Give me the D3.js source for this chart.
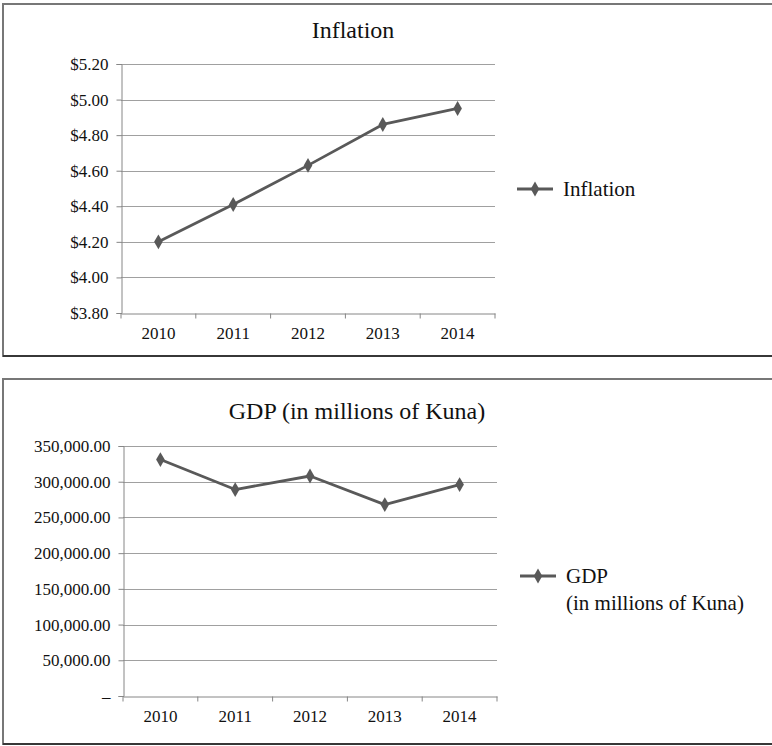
<!DOCTYPE html>
<html>
<head>
<meta charset="utf-8">
<script src="https://cdn.jsdelivr.net/npm/d3@7"></script>
<style>
  body { margin: 0; background: #fff; }
  svg text { font-family: "Liberation Serif", "Times New Roman", Times, "DejaVu Serif", serif !important; }
</style>
</head>
<body>
<svg id="chart" width="772" height="746"></svg>
<script>
// Categories shared by both charts
var years = ["2010", "2011", "2012", "2013", "2014"];

// Inflation series (dollars)
var inflationValues = [4.20, 4.41, 4.63, 4.86, 4.95];
var inflationTicks = [3.8, 4.0, 4.2, 4.4, 4.6, 4.8, 5.0, 5.2];

// GDP series (millions of Kuna)
var gdpValues = [331000, 289000, 308000, 268000, 296000];
var gdpTicks = [0, 50000, 100000, 150000, 200000, 250000, 300000, 350000];

var svg = d3.select("#chart");

var lineColor = "#595959";
var gridColor = "#a0a0a0";
var axisColor = "#868686";

function drawPanel(p) {
    var g = svg.append("g");

    // Frame (open on the right, as in the source)
    g.append("path")
        .attr("d", "M773," + p.frame.top + "H" + p.frame.left + "V" + p.frame.bottom + "H773")
        .attr("fill", "none")
        .attr("stroke", "#777")
        .attr("stroke-width", 2);
    g.append("line")
        .attr("x1", p.frame.left).attr("x2", 773)
        .attr("y1", p.frame.bottom).attr("y2", p.frame.bottom)
        .attr("stroke", "#222").attr("stroke-width", 1.5);

    // Title
    g.append("text")
        .attr("x", p.titleX).attr("y", p.titleY)
        .attr("text-anchor", "middle")
        .attr("font-size", 24)
        .attr("fill", "#111")
        .text(p.title);

    var x = d3.scaleBand().domain(years).range([p.left, p.right]);
    var y = d3.scaleLinear().domain(d3.extent(p.ticks)).range([p.bottom, p.top]);

    // Gridlines
    g.append("g")
        .selectAll("line")
        .data(p.ticks.slice(1))
        .enter().append("line")
        .attr("x1", p.left).attr("x2", p.right)
        .attr("y1", function(d) { return Math.round(y(d)) + 0.5; })
        .attr("y2", function(d) { return Math.round(y(d)) + 0.5; })
        .attr("stroke", gridColor)
        .attr("stroke-width", 1.2);

    // Y axis
    var yAxis = g.append("g")
        .attr("transform", "translate(" + (Math.round(p.left) + 0.5) + ",0)")
        .call(d3.axisLeft(y).tickValues(p.ticks).tickSize(5).tickPadding(8).tickFormat(p.format));
    yAxis.select(".domain").attr("stroke", axisColor);
    yAxis.selectAll(".tick line").attr("stroke", axisColor);
    yAxis.selectAll("text").attr("font-size", 17).attr("fill", "#111");

    // X axis with ticks between categories
    var xAxis = g.append("g")
        .attr("transform", "translate(0," + (Math.round(p.bottom) + 0.5) + ")")
        .call(d3.axisBottom(x).tickSize(0).tickPadding(13));
    xAxis.select(".domain").attr("stroke", axisColor);
    xAxis.selectAll("text").attr("font-size", 17).attr("fill", "#111");
    xAxis.append("g")
        .selectAll("line")
        .data(years.map(function(d) { return x(d); }).concat([p.right]))
        .enter().append("line")
        .attr("x1", function(d) { return d; }).attr("x2", function(d) { return d; })
        .attr("y1", 0).attr("y2", 5)
        .attr("stroke", axisColor);

    // Series line
    var line = d3.line()
        .x(function(d, i) { return x(years[i]) + x.bandwidth() / 2; })
        .y(function(d) { return y(d); });

    g.append("path")
        .datum(p.values)
        .attr("d", line)
        .attr("fill", "none")
        .attr("stroke", lineColor)
        .attr("stroke-width", 2.8)
        .attr("stroke-linejoin", "round");

    var diamond = d3.symbol().type(d3.symbolDiamond).size(64);
    g.append("g")
        .selectAll("path")
        .data(p.values)
        .enter().append("path")
        .attr("d", diamond)
        .attr("transform", function(d, i) {
            return "translate(" + (x(years[i]) + x.bandwidth() / 2) + "," + y(d) + ")";
        })
        .attr("fill", lineColor);

    // Legend
    var leg = g.append("g").attr("transform", "translate(" + p.legendX + "," + p.legendY + ")");
    leg.append("line")
        .attr("x1", 0).attr("x2", 36)
        .attr("y1", 0).attr("y2", 0)
        .attr("stroke", lineColor).attr("stroke-width", 2.8);
    leg.append("path")
        .attr("d", diamond)
        .attr("transform", "translate(18,0)")
        .attr("fill", lineColor);
    p.legendLines.forEach(function(t, i) {
        leg.append("text")
            .attr("x", 46).attr("y", i * 27)
            .attr("dy", "0.35em")
            .attr("font-size", 21)
            .attr("fill", "#111")
            .text(t);
    });
}

drawPanel({
    frame: {left: 3, top: 4, bottom: 356},
    title: "Inflation",
    titleX: 353, titleY: 38,
    left: 121, right: 495, top: 64, bottom: 313,
    ticks: inflationTicks,
    values: inflationValues,
    format: function(d) { return "$" + d3.format(".2f")(d); },
    legendX: 517, legendY: 189,
    legendLines: ["Inflation"]
});

drawPanel({
    frame: {left: 3, top: 379, bottom: 744},
    title: "GDP (in millions of Kuna)",
    titleX: 357, titleY: 419,
    left: 123, right: 497, top: 446, bottom: 696,
    ticks: gdpTicks,
    values: gdpValues,
    format: function(d) { return d === 0 ? "\u2013" : d3.format(",.2f")(d); },
    legendX: 520, legendY: 576,
    legendLines: ["GDP", "(in millions of Kuna)"]
});
</script>
</body>
</html>
